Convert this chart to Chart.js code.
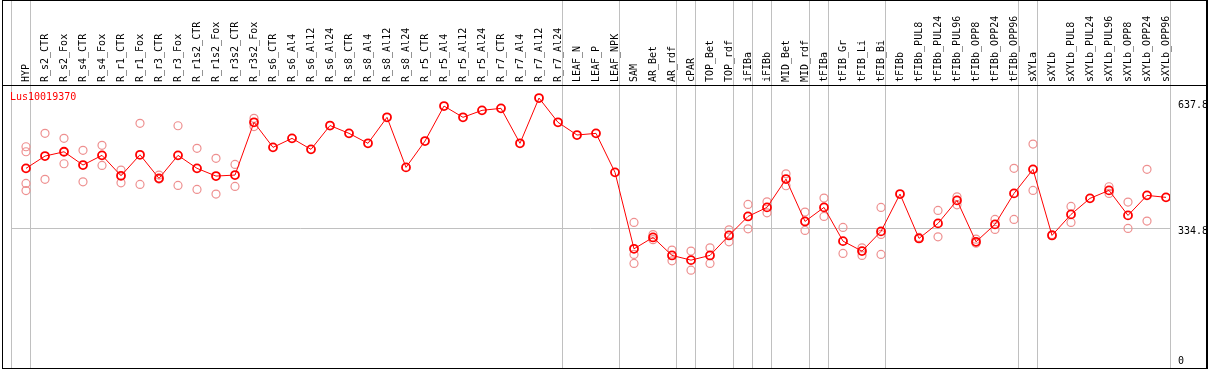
<!DOCTYPE html>
<html>
<head>
<meta charset="utf-8">
<script src="https://cdn.jsdelivr.net/npm/chart.js@4.4.1/dist/chart.umd.min.js"></script>
<style>
  html, body { margin: 0; padding: 0; background: #fff; }
  #wrap { position: relative; width: 1209px; height: 370px; overflow: hidden; }
  #c { position: absolute; left: 0; top: 0; }
  .ln { position: absolute; background: #000; }
  #title { position: absolute; left: 10px; top: 91px; font: 10px/12px "DejaVu Sans Mono", monospace; color: #ff0000; white-space: nowrap; }
</style>
</head>
<body>
<div id="wrap">
  <canvas id="c" width="1209" height="374"></canvas>
  <div class="ln" style="left:2px;top:0;width:1205px;height:1px"></div>
  <div class="ln" style="left:2px;top:0;width:1px;height:369px"></div>
  <div class="ln" style="left:1206px;top:0;width:2px;height:369px"></div>
  <div class="ln" style="left:2px;top:368px;width:1206px;height:1px"></div>
  <div class="ln" style="left:2px;top:85px;width:1205px;height:1px"></div>
  <div id="title">Lus10019370</div>
</div>
<script>
const categories = ["HYP","R_s2_CTR","R_s2_Fox","R_s4_CTR","R_s4_Fox","R_r1_CTR","R_r1_Fox","R_r3_CTR","R_r3_Fox","R_r1s2_CTR","R_r1s2_Fox","R_r3s2_CTR","R_r3s2_Fox","R_s6_CTR","R_s6_Al4","R_s6_Al12","R_s6_Al24","R_s8_CTR","R_s8_Al4","R_s8_Al12","R_s8_Al24","R_r5_CTR","R_r5_Al4","R_r5_Al12","R_r5_Al24","R_r7_CTR","R_r7_Al4","R_r7_Al12","R_r7_Al24","LEAF_N","LEAF_P","LEAF_NPK","SAM","AR_Bet","AR_rdf","cPAR","TOP_Bet","TOP_rdf","iFIBa","iFIBb","MID_Bet","MID_rdf","tFIBa","tFIB_Gr","tFIB_Li","tFIB_Bi","tFIBb","tFIBb_PUL8","tFIBb_PUL24","tFIBb_PUL96","tFIBb_OPP8","tFIBb_OPP24","tFIBb_OPP96","sXYLa","sXYLb","sXYLb_PUL8","sXYLb_PUL24","sXYLb_PUL96","sXYLb_OPP8","sXYLb_OPP24","sXYLb_OPP96"];

const meanValues = [478.6,508.0,518.3,486.5,509.7,460.8,511.1,454.6,509.7,478.6,460.1,462.5,588.8,528.9,550.4,524.1,581.1,562.4,538.5,600.8,480.9,544.0,627.8,600.8,617.5,622.3,538.5,647.0,588.8,558.4,562.4,469.0,285.9,313.2,270.1,258.8,270.1,318.0,363.5,385.1,452.9,351.5,385.1,304.3,280.4,327.6,417.0,310.8,346.8,401.9,302.7,344.4,418.6,476.2,318.0,368.3,406.7,425.8,365.9,413.9,409.1];

const replicateValues = [
  [530.3,518.3,442.6,425.4],[562.4,452.2],[550.4,489.6],[521.7,446.4],[533.7,485.7],
  [474.5,444.0],[586.4,440.2],[462.5,452.9],[580.6,437.8],[526.5,428.2],
  [502.5,417.0],[488.1,435.4],[598.4,578.7],[],[],
  [],[],[],[],[],
  [],[],[],[],[],
  [],[],[],[],[],
  [],[],[349.2,272.5,250.9],[319.9,307.9],[282.8,257.1],
  [280.4,234.8],[288.3,250.9],[331.4,302.7],[392.3,333.8],[398.5,372.2],
  [465.6,436.9],[373.8,330.0],[407.4,363.5],[337.2,274.9],[288.3,270.1],
  [385.1,320.4,272.5],[],[313.2],[377.9,314.6],[410.5,391.3],
  [309.1,299.5],[356.3,332.4],[478.6,356.3],[536.8,425.8],[319.9],
  [387.5,349.2],[],[434.5,418.6],[397.8,334.8],[476.2,352.3],[]
];

const groupBoundaries = [0,1,29,32,35,36,38,39,40,42,43,46,53,54];
const yTickValues = [0, 334.8, 637.8];
const yTickLabels = ["0", "334.8", "637.8"];

const boundarySet = new Set(groupBoundaries);
const GRAY = '#c0c0c0';
const FONT = { family: '"DejaVu Sans Mono", monospace', size: 10, lineHeight: 1.0 };

const meanData = meanValues.map((v, i) => ({ x: i, y: v }));
const repData = replicateValues.flatMap((arr, i) => arr.map(v => ({ x: i, y: v })));

function noPad(s) { s.paddingTop = 0; s.paddingBottom = 0; s.paddingLeft = 0; s.paddingRight = 0; }

new Chart(document.getElementById('c'), {
  type: 'scatter',
  data: {
    labels: categories,
    datasets: [
      {
        label: 'replicates',
        data: repData,
        xAxisID: 'xd',
        showLine: false,
        pointStyle: 'circle',
        pointRadius: 4,
        pointBorderWidth: 1.2,
        pointBorderColor: '#ee9090',
        pointBackgroundColor: 'rgba(0,0,0,0)',
        order: 2
      },
      {
        label: 'Lus10019370',
        data: meanData,
        xAxisID: 'xd',
        showLine: true,
        borderColor: '#ff0000',
        borderWidth: 1,
        tension: 0,
        pointStyle: 'circle',
        pointRadius: 4,
        pointBorderWidth: 1.8,
        pointBorderColor: '#ff0000',
        pointBackgroundColor: 'rgba(0,0,0,0)',
        order: 1
      }
    ]
  },
  options: {
    responsive: false,
    animation: false,
    devicePixelRatio: 1,
    layout: { padding: { left: 11, right: 0, top: 0, bottom: 2 } },
    plugins: { legend: { display: false }, tooltip: { enabled: false }, title: { display: false } },
    scales: {
      x: {
        type: 'category',
        position: 'top',
        offset: true,
        labels: categories,
        border: { display: false },
        grid: {
          offset: true,
          drawTicks: true,
          tickLength: 85,
          lineWidth: 1,
          color: ctx => (ctx.type !== 'tick' || boundarySet.has(ctx.index)) ? GRAY : 'rgba(0,0,0,0)'
        },
        ticks: {
          autoSkip: false,
          minRotation: 90,
          maxRotation: 90,
          padding: -82,
          labelOffset: 16,
          color: '#000',
          font: FONT
        },
        afterFit: s => { s.height = 85; noPad(s); }
      },
      xd: {
        type: 'linear',
        display: false,
        min: -15 / 19,
        max: 61 - 15 / 19
      },
      y: {
        type: 'linear',
        position: 'right',
        min: 0,
        max: 678.2,
        afterBuildTicks: s => { s.ticks = yTickValues.map(v => ({ value: v })); },
        border: { display: false },
        grid: {
          drawTicks: false,
          lineWidth: 1,
          color: ctx => (ctx.tick && ctx.tick.value === 334.8) ? GRAY : 'rgba(0,0,0,0)'
        },
        ticks: {
          padding: 8,
          color: '#000',
          font: FONT,
          labelOffset: -1.5,
          callback: (value) => {
            const lbl = yTickLabels[yTickValues.indexOf(value)];
            return value === 0 ? [lbl, ''] : ['', lbl];
          }
        },
        afterFit: s => { s.width = 39; noPad(s); }
      }
    }
  }
});
</script>
</body>
</html>
